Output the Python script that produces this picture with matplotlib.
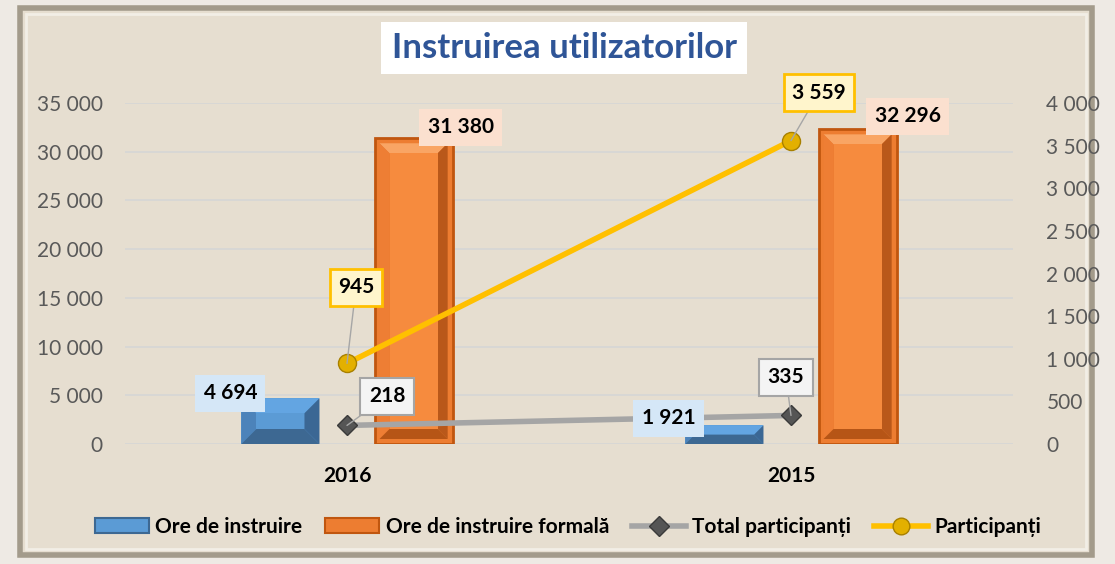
import numpy as np
import matplotlib.pyplot as plt
from matplotlib.patches import Polygon, Rectangle, Patch
from matplotlib.lines import Line2D

plt.rcParams['font.family'] = ['Lato', 'DejaVu Sans']

years = ['2016', '2015']
ore_instruire = [4694, 1921]
ore_formala = [31380, 32296]
total_part = [218, 335]
participanti = [945, 3559]

# label offsets in pixels (dx, dy)
off_blue = [(-50, 5), (-56, 7)]
off_orange = [(47, 11), (50, 13)]
off_yellow = [(9, 76), (28, 48)]
off_gray = [(40, 29), (-5, 38)]


def fmt(v):
    return f"{v:,}".replace(",", " ")


def bevel(ax, x0, y0, x1, y1, b, face, top, left, right, bottom):
    # x0..y1 in pixels, draw trapezoids, convert back to data
    inv = ax.transData.inverted()
    b = min(b, (y1 - y0) / 2.0, (x1 - x0) / 2.0)
    ix0, iy0, ix1, iy1 = x0 + b, y0 + b, x1 - b, y1 - b
    shapes = [
        ([(x0, y1), (x1, y1), (ix1, iy1), (ix0, iy1)], top),
        ([(x0, y0), (x0, y1), (ix0, iy1), (ix0, iy0)], left),
        ([(x1, y0), (x1, y1), (ix1, iy1), (ix1, iy0)], right),
        ([(x0, y0), (x1, y0), (ix1, iy0), (ix0, iy0)], bottom),
        ([(ix0, iy0), (ix1, iy0), (ix1, iy1), (ix0, iy1)], face),
    ]
    for pts, c in shapes:
        ax.add_patch(Polygon(inv.transform(pts), closed=True, facecolor=c,
                             edgecolor='none', zorder=3))


fig = plt.figure(figsize=(11.15, 5.64), dpi=100)
fig.patch.set_facecolor('#EEEAE4')

# framed panel
fig.patches.append(Rectangle((20 / 1115, 9 / 564), 1072 / 1115, 547 / 564,
                             transform=fig.transFigure, facecolor='#E6DED0',
                             edgecolor='#A39B8B', lw=4, zorder=-2))
fig.patches.append(Rectangle((26 / 1115, 15 / 564), 1060 / 1115, 535 / 564,
                             transform=fig.transFigure, facecolor='none',
                             edgecolor='#F2EEE6', lw=2, zorder=-1))

ax = fig.add_axes([125 / 1115, 120 / 564, 888 / 1115, 341 / 564])
ax.set_facecolor('none')
x = np.arange(len(years))
w = 0.176
ax.set_xlim(-0.5, 1.5)
ax.set_ylim(0, 35000)
ax.set_yticks(np.arange(0, 35001, 5000))
ax.set_yticklabels([fmt(v) for v in range(0, 35001, 5000)])
ax.grid(axis='y', color='#D6D6D6', lw=1.2)
ax.set_axisbelow(True)
for s in ax.spines.values():
    s.set_visible(False)
ax.tick_params(axis='y', length=0, pad=16, labelsize=15, labelcolor='#595959')
ax.tick_params(axis='x', length=0, pad=16, labelsize=15)
ax.set_xticks(x)
ax.set_xticklabels(years, fontweight='bold')

b1 = ax.bar(x - 0.15, ore_instruire, w, color='#5B9BD5', zorder=2)
b2 = ax.bar(x + 0.15, ore_formala, w, color='#ED7D31', edgecolor='#C0560F',
            lw=2, zorder=2)

for r in b1:
    (px0, py0) = ax.transData.transform((r.get_x(), r.get_y()))
    (px1, py1) = ax.transData.transform((r.get_x() + r.get_width(), r.get_y() + r.get_height()))
    bevel(ax, px0, py0, px1, py1, 15, '#5B9BD5', '#63A5E2', '#4C83BA', '#3B6794', '#3D6892')
for r in b2:
    (px0, py0) = ax.transData.transform((r.get_x(), r.get_y()))
    (px1, py1) = ax.transData.transform((r.get_x() + r.get_width(), r.get_y() + r.get_height()))
    bevel(ax, px0 + 5, py0 + 5, px1 - 5, py1 - 5, 10, '#F68B3E', '#F9A564', '#EE7E34', '#B9581A', '#B65516')

ax2 = ax.twinx()
ax2.set_ylim(0, 4000)
ax2.set_yticks(np.arange(0, 4001, 500))
ax2.set_yticklabels([fmt(v) for v in range(0, 4001, 500)])
for s in ax2.spines.values():
    s.set_visible(False)
ax2.tick_params(axis='y', length=0, pad=24, labelsize=15, labelcolor='#595959')

ax2.plot(x, total_part, color='#A5A5A5', lw=4, marker='D', ms=10,
         mfc='#555555', mec='#3A3A3A', zorder=4)
ax2.plot(x, participanti, color='#FFC000', lw=4, marker='o', ms=13,
         mfc='#E3B000', mec='#A88000', zorder=4)

lead = dict(arrowstyle='-', color='#A6A6A6', lw=1, shrinkA=0, shrinkB=0)
for i in range(len(years)):
    ax2.annotate(fmt(ore_instruire[i]), xy=(x[i] - 0.15, ore_instruire[i]), xycoords=ax.transData,
                 xytext=off_blue[i], textcoords='offset pixels', ha='center', va='center',
                 fontsize=15, fontweight='bold', zorder=6,
                 bbox=dict(boxstyle='square,pad=0.4', fc='#D5E7F7', ec='none'))
    ax2.annotate(fmt(ore_formala[i]), xy=(x[i] + 0.15, ore_formala[i]), xycoords=ax.transData,
                 xytext=off_orange[i], textcoords='offset pixels', ha='center', va='center',
                 fontsize=15, fontweight='bold', zorder=6,
                 bbox=dict(boxstyle='square,pad=0.4', fc='#FBE0CF', ec='none'))
    ax2.annotate(fmt(participanti[i]), xy=(x[i], participanti[i]),
                 xytext=off_yellow[i], textcoords='offset pixels', ha='center', va='center',
                 fontsize=15, fontweight='bold', zorder=6, arrowprops=lead,
                 bbox=dict(boxstyle='square,pad=0.4', fc='#FFF5CC', ec='#FFC000', lw=2))
    ax2.annotate(fmt(total_part[i]), xy=(x[i], total_part[i]),
                 xytext=off_gray[i], textcoords='offset pixels', ha='center', va='center',
                 fontsize=15, fontweight='bold', zorder=6, arrowprops=lead,
                 bbox=dict(boxstyle='square,pad=0.4', fc='#F4F4F4', ec='#A5A5A5', lw=1.5))

fig.text(564 / 1115, 1 - 48 / 564, 'Instruirea utilizatorilor', ha='center', va='center',
         fontsize=25, fontweight='bold', color='#2F5597',
         bbox=dict(boxstyle='square,pad=0.3', fc='white', ec='none'))

handles = [
    Patch(facecolor='#5B9BD5', edgecolor='#3D6892', lw=1.5),
    Patch(facecolor='#ED7D31', edgecolor='#C0560F', lw=1.5),
    Line2D([], [], color='#A5A5A5', lw=4, marker='D', ms=10, mfc='#555555', mec='#3A3A3A'),
    Line2D([], [], color='#FFC000', lw=4, marker='o', ms=12, mfc='#E3B000', mec='#A88000'),
]
labels = ['Ore de instruire', 'Ore de instruire formală', 'Total participanți', 'Participanți']
fig.legend(handles, labels, loc='center', bbox_to_anchor=(568 / 1115, 1 - 527 / 564), ncol=4,
           frameon=False, prop={'weight': 'bold', 'size': 15}, handlelength=2.6,
           handletextpad=0.3, columnspacing=1.1)

fig.savefig('out.png', dpi=100, facecolor=fig.get_facecolor())
